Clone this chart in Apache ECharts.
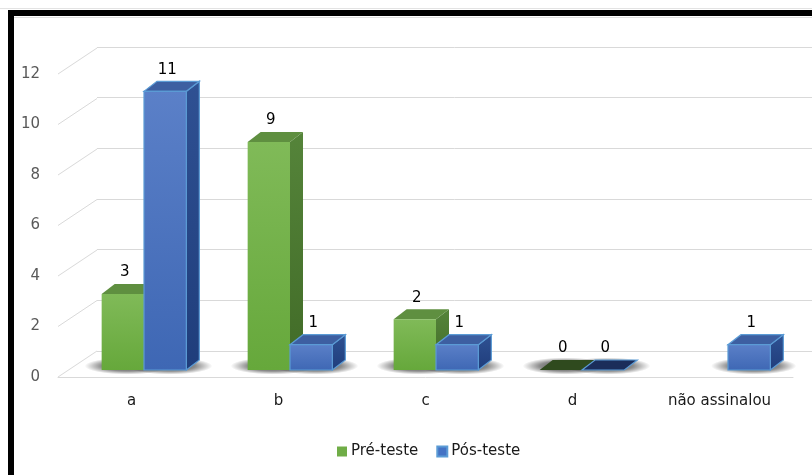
<!DOCTYPE html>
<html>
<head>
<meta charset="utf-8">
<script src="https://cdn.jsdelivr.net/npm/echarts@6/dist/echarts.min.js"></script>
<style>
  html, body { margin: 0; padding: 0; background: #fff; }
  #chart { width: 812px; height: 475px; }
</style>
</head>
<body>
<div id="chart"></div>
<script>
// dados
var categories = ['a', 'b', 'c', 'd', 'não assinalou'];
var preTeste = [3, 9, 2, 0, null];
var posTeste = [11, 1, 1, 0, 1];
var yTicks = [0, 2, 4, 6, 8, 10, 12];

// profundidade das barras 3D
var DX = 13, DY = -10;
var FONT = 'DejaVu Sans, Noto Sans, sans-serif';

var palette = [
  { // verde
    front: ['#80ba58', '#66a83b'],
    side: ['#55843a', '#416b27'],
    top: '#5f8f40',
    flat: '#2f4a1e',
    stroke: null
  },
  { // azul
    front: ['#5b80c8', '#3e67b4'],
    side: ['#2f5193', '#1f3d7b'],
    top: '#3d5fa1',
    flat: '#1b2d5a',
    stroke: '#5b9bd5'
  }
];

function grad(c) {
  return new echarts.graphic.LinearGradient(0, 0, 0, 1, [
    { offset: 0, color: c[0] },
    { offset: 1, color: c[1] }
  ]);
}

function barRect(api, idx) {
  var v = api.value(1);
  if (v == null || isNaN(v)) return null;
  var base = api.coord([api.value(0), 0]);
  var top = api.coord([api.value(0), v]);
  var w = api.size([1, 0])[0] * 0.29;
  var x0 = idx === 0 ? base[0] - w : base[0];
  return { x0: x0, x1: x0 + w, y0: base[1], y1: top[1], v: v };
}

function renderBar(idx) {
  return function (params, api) {
    var r = barRect(api, idx);
    if (!r) return;
    var c = palette[idx];
    var st = c.stroke;
    var children = [];
    if (r.v === 0) {
      children.push({
        type: 'polygon',
        shape: { points: [[r.x0, r.y0], [r.x1, r.y0], [r.x1 + DX, r.y0 + DY], [r.x0 + DX, r.y0 + DY]] },
        style: { fill: c.flat, stroke: st, lineWidth: st ? 1.2 : 0 }
      });
    } else {
      children.push({
        type: 'polygon',
        shape: { points: [[r.x1, r.y0], [r.x1 + DX, r.y0 + DY], [r.x1 + DX, r.y1 + DY], [r.x1, r.y1]] },
        style: { fill: grad(c.side), stroke: st, lineWidth: st ? 1.2 : 0 }
      });
      children.push({
        type: 'polygon',
        shape: { points: [[r.x0, r.y1], [r.x1, r.y1], [r.x1 + DX, r.y1 + DY], [r.x0 + DX, r.y1 + DY]] },
        style: { fill: c.top, stroke: st, lineWidth: st ? 1.2 : 0 }
      });
      children.push({
        type: 'rect',
        shape: { x: r.x0, y: r.y1, width: r.x1 - r.x0, height: r.y0 - r.y1 },
        style: { fill: grad(c.front), stroke: st, lineWidth: st ? 1.2 : 0 }
      });
    }
    children.push({
      type: 'text',
      style: {
        text: String(r.v),
        x: (r.x0 + r.x1) / 2 + 2,
        y: r.y1 + DY - 4,
        align: 'center',
        verticalAlign: 'bottom',
        fill: '#000',
        font: '15px ' + FONT
      }
    });
    return { type: 'group', children: children };
  };
}

// sombra difusa no chão (círculo achatado com gradiente radial)
function renderShadow(idx) {
  return function (params, api) {
    var r = barRect(api, idx);
    if (!r) return;
    var R = (r.x1 - r.x0 + DX) / 2 + 15;
    return {
      type: 'circle',
      x: (r.x0 + r.x1 + DX) / 2 - 2,
      y: r.y0 - 4,
      scaleY: 0.2,
      shape: { cx: 0, cy: 0, r: R },
      style: {
        fill: new echarts.graphic.RadialGradient(0.5, 0.5, 0.5, [
          { offset: 0, color: 'rgba(0,0,0,0.7)' },
          { offset: 0.6, color: 'rgba(0,0,0,0.45)' },
          { offset: 1, color: 'rgba(0,0,0,0)' }
        ])
      }
    };
  };
}

function pairs(arr) {
  return arr.map(function (v, i) { return [i, v]; });
}

var chart = echarts.init(document.getElementById('chart'));

var option = {
  animation: false,
  backgroundColor: '#fff',
  textStyle: { fontFamily: FONT },
  grid: [
    // plano das barras
    { left: 71, right: 11, top: 66, bottom: 105 },
    // plano frontal (rótulos)
    { left: 58, right: 19, top: 74, bottom: 98 },
    // parede do fundo
    { left: 97, right: 0, top: 47, bottom: 124 }
  ],
  xAxis: [
    { gridIndex: 0, type: 'category', data: categories, show: false },
    {
      gridIndex: 1, type: 'category', data: categories,
      axisLine: { lineStyle: { color: '#d9d9d9' } },
      axisTick: { show: false },
      axisLabel: { color: '#1a1a1a', fontSize: 15, margin: 17, fontFamily: FONT }
    },
    { gridIndex: 2, type: 'category', data: categories, show: false }
  ],
  yAxis: [
    { gridIndex: 0, type: 'value', min: 0, max: 12, interval: 2, show: false },
    {
      gridIndex: 1, type: 'value', min: 0, max: 12, interval: 2,
      axisLine: { show: false },
      axisTick: { show: false },
      splitLine: { show: false },
      axisLabel: { color: '#595959', fontSize: 15, margin: 18, fontFamily: FONT }
    },
    {
      gridIndex: 2, type: 'value', min: 0, max: 12, interval: 2,
      axisLine: { show: false },
      axisTick: { show: false },
      axisLabel: { show: false },
      splitLine: { lineStyle: { color: '#d9d9d9', width: 1 } }
    }
  ],
  legend: {
    data: ['Pré-teste', 'Pós-teste'],
    left: 332,
    top: 439,
    icon: 'rect',
    itemWidth: 10,
    itemHeight: 10,
    itemGap: 18,
    textStyle: { color: '#1a1a1a', fontSize: 15, fontFamily: FONT, padding: [0, 0, 0, -1] }
  },
  series: [
    {
      // linhas diagonais da parede lateral
      type: 'custom',
      name: 'parede',
      xAxisIndex: 1,
      yAxisIndex: 1,
      silent: true,
      z: 0,
      data: yTicks.map(function (t) { return [0, t]; }),
      renderItem: function (params, api) {
        var y = api.coord([0, api.value(1)])[1];
        var x = params.coordSys.x;
        return {
          type: 'line',
          shape: { x1: x, y1: y, x2: x + 39, y2: y - 26 },
          style: { stroke: '#d9d9d9', lineWidth: 1 }
        };
      }
    },
    {
      type: 'custom', name: 'sombra-pre', silent: true, z: 1,
      data: pairs(preTeste), renderItem: renderShadow(0)
    },
    {
      type: 'custom', name: 'sombra-pos', silent: true, z: 1,
      data: pairs(posTeste), renderItem: renderShadow(1)
    },
    {
      type: 'custom', name: 'Pré-teste', z: 2,
      itemStyle: { color: '#70ad47' },
      data: pairs(preTeste), renderItem: renderBar(0)
    },
    {
      type: 'custom', name: 'Pós-teste', z: 3,
      itemStyle: { color: '#4472c4', borderColor: '#5b9bd5', borderWidth: 1 },
      data: pairs(posTeste), renderItem: renderBar(1)
    }
  ],
  graphic: [
    { type: 'line', shape: { x1: 0, y1: 8.5, x2: 812, y2: 8.5 }, style: { stroke: '#e3e3e3', lineWidth: 1 } },
    { type: 'line', shape: { x1: 14, y1: 17.5, x2: 812, y2: 17.5 }, style: { stroke: '#e0e0e0', lineWidth: 1 } },
    { type: 'rect', shape: { x: 8, y: 10, width: 804, height: 6 }, style: { fill: '#000' } },
    { type: 'rect', shape: { x: 8, y: 10, width: 6, height: 465 }, style: { fill: '#000' } }
  ]
};

chart.setOption(option);
window.addEventListener('resize', function () { chart.resize(); });
</script>
</body>
</html>
